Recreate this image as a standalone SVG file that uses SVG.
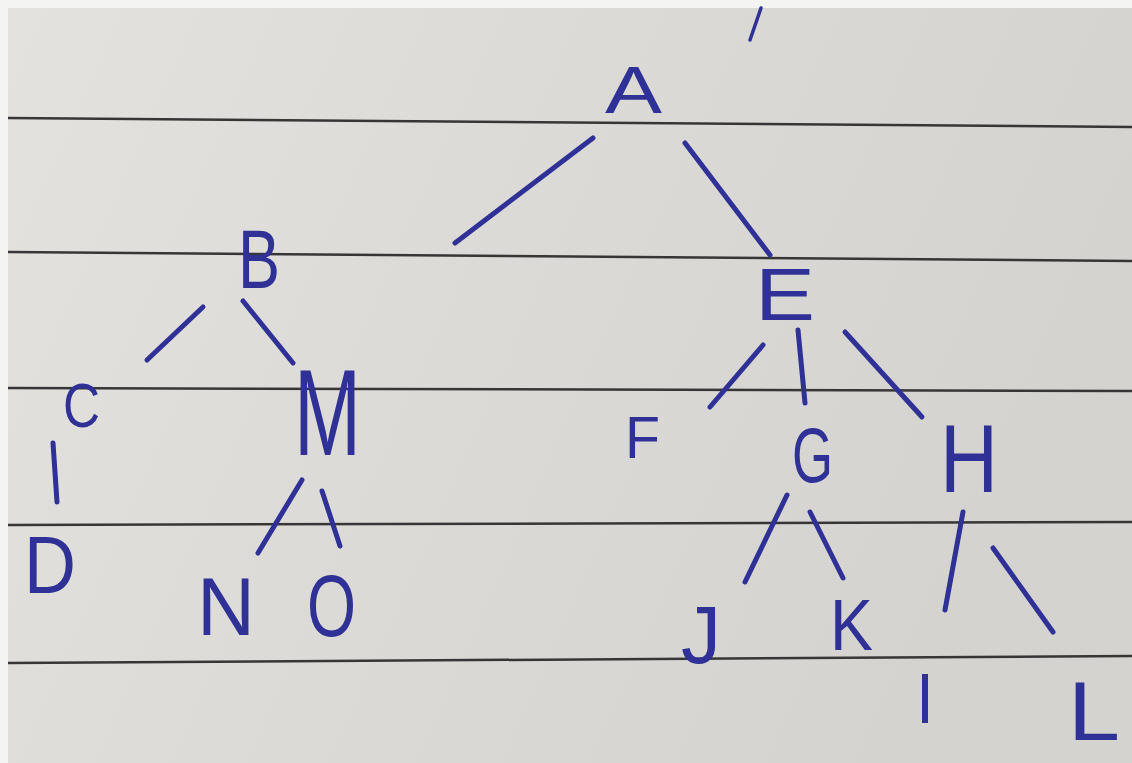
<svg xmlns="http://www.w3.org/2000/svg" width="1132" height="763" viewBox="0 0 1132 763">
<defs>
<linearGradient id="paper" x1="0" y1="0" x2="1" y2="0.3">
<stop offset="0" stop-color="#e3e2df"/>
<stop offset="0.5" stop-color="#dcdad7"/>
<stop offset="1" stop-color="#d5d3cf"/>
</linearGradient>
<style>
.rule{stroke:#363636;stroke-width:2.5;fill:none}
.edge{stroke:#2f3196;stroke-width:5;stroke-linecap:round;fill:none}
.lbl{font-family:"Liberation Sans",Arial,sans-serif;fill:#2f3196;text-anchor:start}
</style>
</defs>
<rect x="0" y="0" width="1132" height="763" fill="#f4f4f2"/>
<rect x="8" y="8" width="1124" height="755" fill="url(#paper)"/>
<g id="rules">
<line class="rule" x1="8" y1="118" x2="1132" y2="127"/>
<line class="rule" x1="8" y1="252" x2="1132" y2="261"/>
<line class="rule" x1="8" y1="388" x2="1132" y2="391"/>
<line class="rule" x1="8" y1="525" x2="1132" y2="522"/>
<line class="rule" x1="8" y1="663" x2="1132" y2="656"/>
</g>
<g id="connectors">
<line class="edge" x1="761" y1="8" x2="750" y2="40" style="stroke-width:3.5"/>
<line class="edge" x1="593" y1="138" x2="455" y2="243"/>
<line class="edge" x1="685" y1="143" x2="770" y2="255"/>
<line class="edge" x1="203" y1="307" x2="147" y2="360"/>
<line class="edge" x1="243" y1="301" x2="293" y2="363"/>
<line class="edge" x1="53" y1="443" x2="57" y2="502"/>
<line class="edge" x1="302" y1="480" x2="258" y2="553"/>
<line class="edge" x1="322" y1="491" x2="340" y2="546"/>
<line class="edge" x1="763" y1="345" x2="710" y2="407"/>
<line class="edge" x1="798" y1="330" x2="805" y2="403"/>
<line class="edge" x1="845" y1="332" x2="922" y2="417"/>
<line class="edge" x1="787" y1="495" x2="745" y2="582"/>
<line class="edge" x1="810" y1="512" x2="843" y2="578"/>
<line class="edge" x1="963" y1="512" x2="945" y2="610"/>
<line class="edge" x1="993" y1="548" x2="1053" y2="632"/>
</g>
<g id="node-A"><text class="lbl" x="605" y="113" font-size="67" textLength="57" lengthAdjust="spacingAndGlyphs">A</text></g>
<g id="node-B"><text class="lbl" x="238" y="288" font-size="84" textLength="42" lengthAdjust="spacingAndGlyphs">B</text></g>
<g id="node-C"><text class="lbl" x="63" y="427" font-size="63" textLength="37" lengthAdjust="spacingAndGlyphs">C</text></g>
<g id="node-D"><text class="lbl" x="24" y="593" font-size="81" textLength="52" lengthAdjust="spacingAndGlyphs">D</text></g>
<g id="node-M"><text class="lbl" x="294" y="455" font-size="123" textLength="67" lengthAdjust="spacingAndGlyphs">M</text></g>
<g id="node-N"><text class="lbl" x="197" y="635" font-size="81" textLength="58" lengthAdjust="spacingAndGlyphs">N</text></g>
<g id="node-O"><text class="lbl" x="307" y="636" font-size="88" textLength="49" lengthAdjust="spacingAndGlyphs">O</text></g>
<g id="node-E"><text class="lbl" x="755" y="320" font-size="74" textLength="60" lengthAdjust="spacingAndGlyphs">E</text></g>
<g id="node-F"><text class="lbl" x="625" y="458" font-size="60" textLength="35" lengthAdjust="spacingAndGlyphs">F</text></g>
<g id="node-G"><text class="lbl" x="792" y="482" font-size="78" textLength="41" lengthAdjust="spacingAndGlyphs">G</text></g>
<g id="node-H"><text class="lbl" x="940" y="492" font-size="96" textLength="58" lengthAdjust="spacingAndGlyphs">H</text></g>
<g id="node-I"><text class="lbl" x="916" y="723" font-size="71" textLength="18" lengthAdjust="spacingAndGlyphs">I</text></g>
<g id="node-J"><text class="lbl" x="681" y="663" font-size="81" textLength="40" lengthAdjust="spacingAndGlyphs">J</text></g>
<g id="node-K"><text class="lbl" x="830" y="650" font-size="73" textLength="43" lengthAdjust="spacingAndGlyphs">K</text></g>
<g id="node-L"><text class="lbl" x="1068" y="740" font-size="84" textLength="52" lengthAdjust="spacingAndGlyphs">L</text></g>
</svg>
